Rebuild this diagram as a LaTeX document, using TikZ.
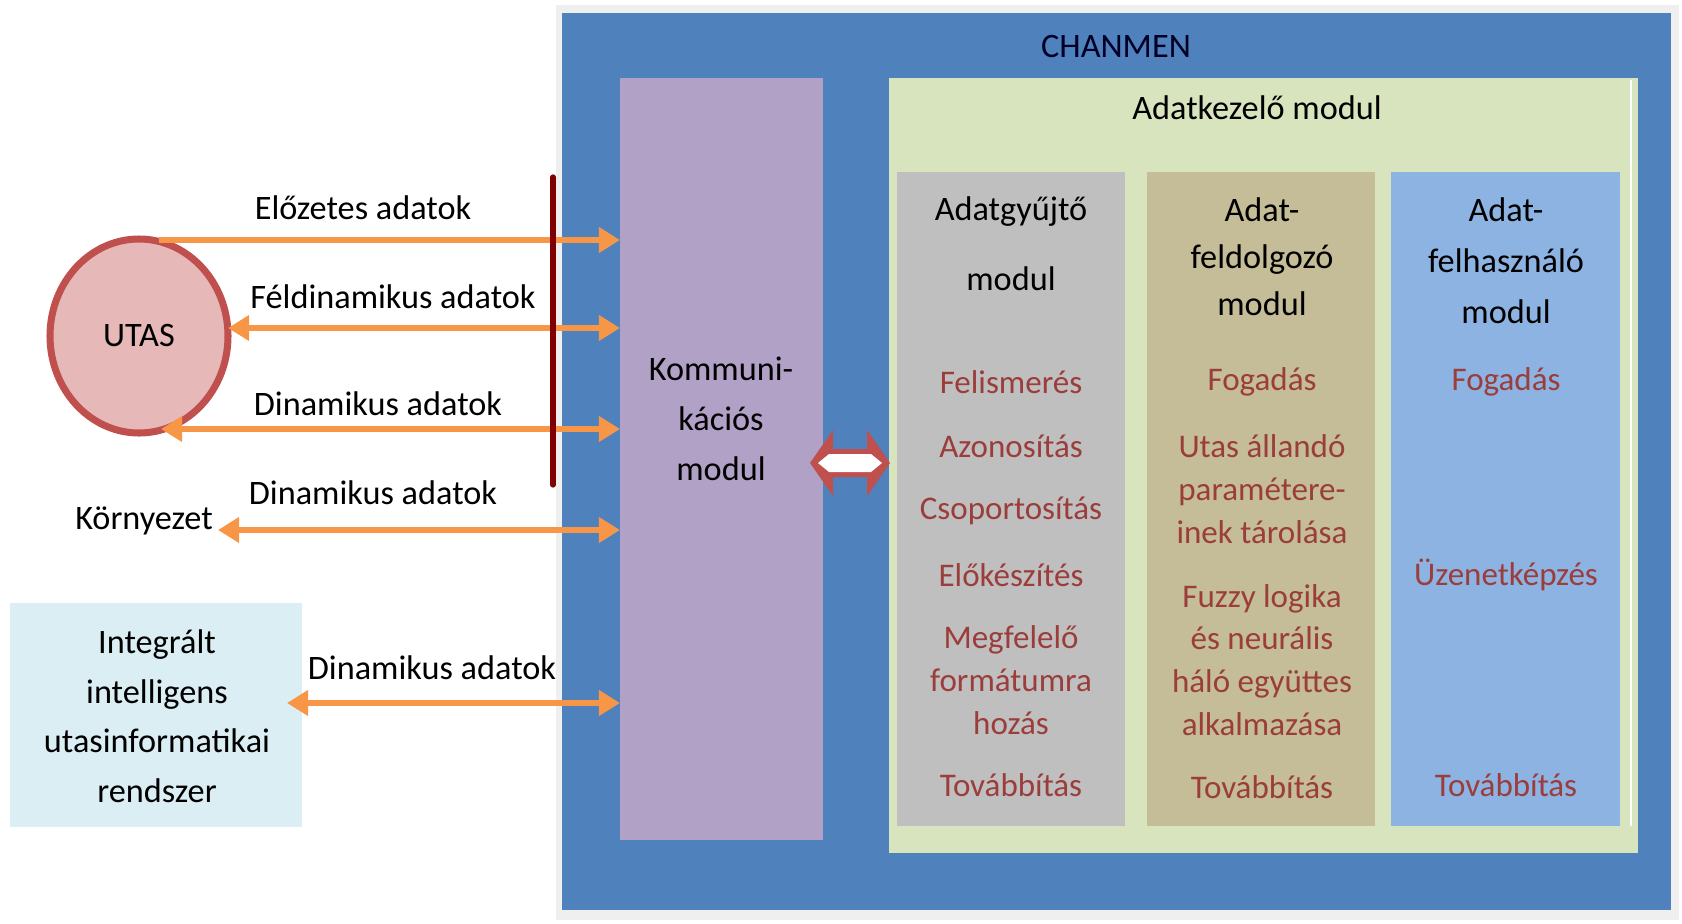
\documentclass[tikz,border=0pt]{standalone}
\usepackage{fontspec}
\setmainfont{Carlito}
\usetikzlibrary{arrows.meta,shapes.geometric}
\definecolor{cblue}{HTML}{4F81BD}
\definecolor{cpurple}{HTML}{B2A1C7}
\definecolor{cgreen}{HTML}{D7E4BD}
\definecolor{cgray}{HTML}{BFBFBF}
\definecolor{ctan}{HTML}{C4BD97}
\definecolor{clblue}{HTML}{8DB3E2}
\definecolor{cinteg}{HTML}{DAEEF3}
\definecolor{corange}{HTML}{F79646}
\definecolor{cred}{HTML}{C0504D}
\definecolor{cpink}{HTML}{E6B8B7}
\definecolor{ctext}{HTML}{9B3D3B}
\definecolor{cbar}{HTML}{7F0000}
\definecolor{cframe}{HTML}{EFEFEF}
\tikzset{
  lbl/.style={font=\fontsize{19.5}{24}\selectfont, text=black, inner sep=0pt},
  red/.style={font=\fontsize{18.8}{24.4}\selectfont, text=ctext, inner sep=0pt, align=center},
  box/.style={draw=none, inner sep=0pt, anchor=north west},
  flow/.style={draw=corange, line width=3.4pt, -{Triangle[length=12pt,width=14pt]}},
  flow2/.style={draw=corange, line width=3.4pt, {Triangle[length=12pt,width=14pt]}-{Triangle[length=12pt,width=14pt]}},
}
\begin{document}
\begin{tikzpicture}[x=0.02cm,y=-0.02cm]
\useasboundingbox (0,0) rectangle (1682,923);
% outer frame
\fill[cframe] (556,5) rectangle (1679,920);
\node[box, fill=cblue, minimum width=1109*0.02cm, minimum height=897*0.02cm] (chan) at (562,13) {};
\node[lbl, text=black!85!blue] (chant) at (1116,46) {CHANMEN};
% comm module
\node[box, fill=cpurple, minimum width=203*0.02cm, minimum height=762*0.02cm] (komm) at (620,78) {};
\node[lbl, align=center, font=\fontsize{19.5}{28.5}\selectfont] (kommt) at (721,419) {Kommuni-\\kációs\\modul};
% data module
\node[box, fill=cgreen, minimum width=749*0.02cm, minimum height=775*0.02cm] (adat) at (889,78) {};
\draw[white, line width=1pt] (1631,80) -- (1631,826);
\node[lbl] (adatt) at (1257,108) {Adatkezelő modul};
% columns
\node[box, fill=cgray, minimum width=228*0.02cm, minimum height=654*0.02cm] (c1) at (897,172) {};
\node[box, fill=ctan, minimum width=228*0.02cm, minimum height=654*0.02cm] (c2) at (1147,172) {};
\node[box, fill=clblue, minimum width=229*0.02cm, minimum height=654*0.02cm] (c3) at (1391,172) {};
% column headings
\node[lbl, align=center, font=\fontsize{19.5}{39.7}\selectfont] (h1) at (1011,244) {Adatgyűjtő\\modul};
\node[lbl, align=center, font=\fontsize{19.5}{26.8}\selectfont] (h2) at (1262,257) {Adat-\\feldolgozó\\modul};
\node[lbl, align=center, font=\fontsize{19.5}{29}\selectfont] (h3) at (1506,261) {Adat-\\felhasználó\\modul};
% column 1 items
\node[red] (a1) at (1011,382) {Felismerés};
\node[red] (a2) at (1011,446) {Azonosítás};
\node[red] (a3) at (1011,511) {Csoportosítás};
\node[red] (a4) at (1011,575) {Előkészítés};
\node[red] (a5) at (1011,680) {Megfelelő\\formátumra\\hozás};
\node[red] (a6) at (1011,785) {Továbbítás};
% column 2 items
\node[red] (b1) at (1262,382) {Fogadás};
\node[red] (b2) at (1262,489) {Utas állandó\\paramétere-\\inek tárolása};
\node[red] (b3) at (1262,660) {Fuzzy logika\\és neurális\\háló együttes\\alkalmazása};
\node[red] (b4) at (1262,787) {Továbbítás};
% column 3 items
\node[red] (d1) at (1506,382) {Fogadás};
\node[red] (d2) at (1506,575) {Üzenetképzés};
\node[red] (d3) at (1506,785) {Továbbítás};
% red double arrow between comm and data
\fill[cred] (810,463) -- (833,430) -- (833,449) -- (867,449) -- (867,430) -- (890,463)
  -- (867,496) -- (867,477) -- (833,477) -- (833,496) -- cycle;
\fill[white] (818,463) -- (829,454) -- (871,454) -- (882,463) -- (871,472) -- (829,472) -- cycle;
% left side
\node[ellipse, draw=cred, line width=4pt, fill=cpink, minimum width=178*0.02cm, minimum height=194*0.02cm, inner sep=0pt] (utas) at (139,336) {};
\node[lbl] (utast) at (139,336) {UTAS};
\node[lbl, anchor=center] (korny) at (144,521) {Környezet};
\node[box, fill=cinteg, minimum width=292*0.02cm, minimum height=224*0.02cm] (integ) at (10,603) {};
\node[lbl, align=center, font=\fontsize{19.5}{28.2}\selectfont] (integt) at (157,716) {Integrált\\intelligens\\utasinformatikai\\rendszer};
% endpoints
\coordinate (s1) at (159,240);
\coordinate (e1) at (620,240);
\coordinate (s2) at (228,328);
\coordinate (e2) at (620,328);
\coordinate (s3) at (161,429);
\coordinate (e3) at (620,429);
\coordinate (s4) at (218,530);
\coordinate (e4) at (620,530);
\coordinate (s5) at (287,703);
\coordinate (e5) at (620,703);
\draw[flow] (s1) -- (e1);
\draw[flow2] (s2) -- (e2);
\draw[flow2] (s3) -- (e3);
\draw[flow2] (s4) -- (e4);
\draw[flow2] (s5) -- (e5);
% labels
\node[lbl] (l1) at (363,208) {Előzetes adatok};
\node[lbl] (l2) at (393,297) {Féldinamikus adatok};
\node[lbl] (l3) at (378,404) {Dinamikus adatok};
\node[lbl] (l4) at (373,493) {Dinamikus adatok};
\node[lbl] (l5) at (432,668) {Dinamikus adatok};
% dark red bar
\coordinate (bt) at (553,177);
\coordinate (bb) at (553,485);
\draw[cbar, line width=3pt, line cap=round] (bt) -- (bb);
\end{tikzpicture}
\end{document}
